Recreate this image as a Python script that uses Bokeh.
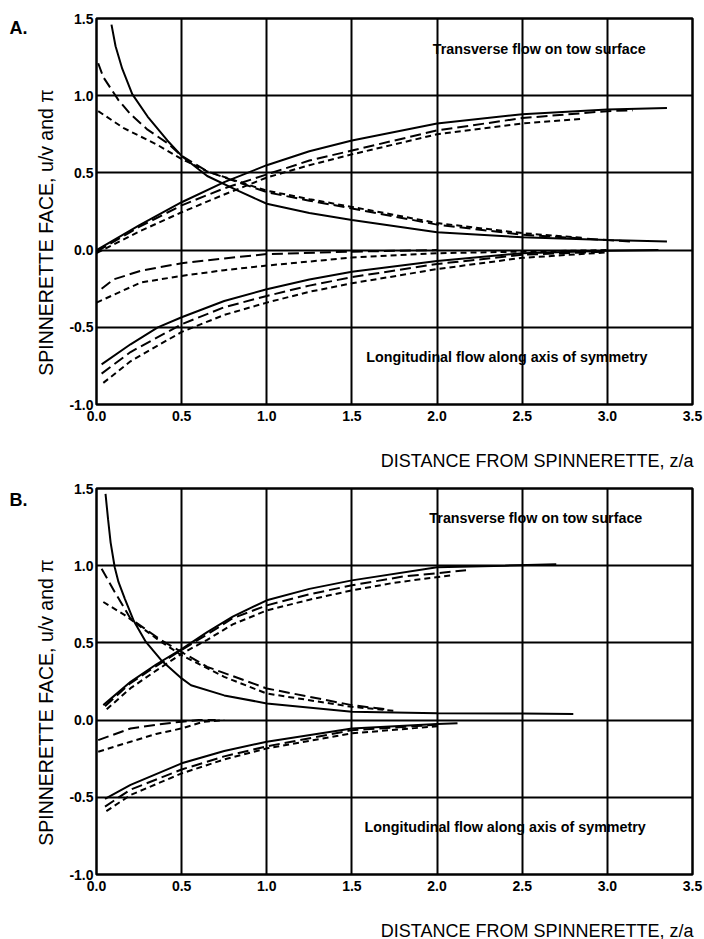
import math
from bokeh.plotting import figure
from bokeh.models import Range1d, FixedTicker, PrintfTickFormatter, Label
from bokeh.layouts import column, row
from bokeh.embed import file_html
from bokeh.resources import INLINE

# ---------------- data ----------------
x_ticks = [0.0, 0.5, 1.0, 1.5, 2.0, 2.5, 3.0, 3.5]
y_ticks = [-1.0, -0.5, 0.0, 0.5, 1.0, 1.5]

x_title = "DISTANCE FROM SPINNERETTE, z/a"
y_title = "SPINNERETTE FACE, u/v and π"
note_top = "Transverse flow on tow surface"
note_bottom = "Longitudinal flow along axis of symmetry"

# Panel A
a_dec_solid_x = [0.088, 0.112, 0.151, 0.21, 0.3, 0.416, 0.5, 0.65, 0.83, 1.0, 1.25, 1.5, 2.0, 2.5, 3.0, 3.35]
a_dec_solid_y = [1.46, 1.32, 1.175, 1.01, 0.865, 0.71, 0.61, 0.48, 0.385, 0.30, 0.24, 0.195, 0.115, 0.083, 0.065, 0.055]
a_dec_long_x = [0.01, 0.04, 0.07, 0.13, 0.2, 0.3, 0.42, 0.5, 0.65, 0.83, 1.0, 1.25, 1.5, 2.0, 2.5, 3.0, 3.15]
a_dec_long_y = [1.21, 1.12, 1.07, 0.97, 0.88, 0.78, 0.69, 0.61, 0.51, 0.44, 0.375, 0.32, 0.27, 0.165, 0.10, 0.065, 0.055]
a_dec_short_x = [0.01, 0.16, 0.36, 0.5, 0.65, 0.83, 1.0, 1.25, 1.5, 2.0, 2.5, 2.85]
a_dec_short_y = [0.90, 0.79, 0.68, 0.59, 0.51, 0.445, 0.385, 0.33, 0.28, 0.175, 0.11, 0.08]

a_inc_solid_x = [0.0, 0.25, 0.5, 0.75, 1.0, 1.25, 1.5, 2.0, 2.5, 3.0, 3.35]
a_inc_solid_y = [0.0, 0.16, 0.31, 0.44, 0.55, 0.64, 0.71, 0.82, 0.88, 0.91, 0.92]
a_inc_long_x = [0.0, 0.25, 0.5, 0.75, 1.0, 1.25, 1.5, 2.0, 2.5, 3.0, 3.15]
a_inc_long_y = [-0.01, 0.15, 0.29, 0.40, 0.49, 0.58, 0.645, 0.775, 0.855, 0.90, 0.905]
a_inc_short_x = [0.0, 0.25, 0.5, 0.75, 1.0, 1.25, 1.5, 2.0, 2.5, 2.85]
a_inc_short_y = [-0.02, 0.12, 0.245, 0.36, 0.47, 0.55, 0.62, 0.75, 0.82, 0.85]

a_zero_long_x = [0.03, 0.1, 0.26, 0.5, 0.75, 1.0, 1.5, 2.0]
a_zero_long_y = [-0.25, -0.19, -0.134, -0.085, -0.054, -0.026, -0.01, 0.0]
a_zero_short_x = [0.0, 0.26, 0.5, 0.75, 1.0, 1.5, 2.0, 2.5, 3.0]
a_zero_short_y = [-0.34, -0.21, -0.167, -0.13, -0.10, -0.048, -0.02, -0.01, 0.0]

a_low_solid_x = [0.03, 0.2, 0.36, 0.5, 0.75, 1.0, 1.25, 1.5, 2.0, 2.5, 3.0, 3.3]
a_low_solid_y = [-0.74, -0.61, -0.5, -0.435, -0.33, -0.253, -0.19, -0.14, -0.07, -0.02, -0.005, 0.0]
a_low_long_x = [0.03, 0.2, 0.5, 0.75, 1.0, 1.25, 1.5, 2.0, 2.5, 3.0]
a_low_long_y = [-0.80, -0.66, -0.48, -0.37, -0.297, -0.23, -0.175, -0.09, -0.03, -0.01]
a_low_short_x = [0.04, 0.2, 0.5, 0.75, 1.0, 1.25, 1.5, 2.0, 2.5, 3.0]
a_low_short_y = [-0.86, -0.72, -0.53, -0.42, -0.34, -0.27, -0.215, -0.123, -0.05, -0.015]

# Panel B
b_dec_solid_x = [0.053, 0.068, 0.083, 0.107, 0.129, 0.166, 0.22, 0.29, 0.38, 0.5, 0.555, 0.75, 1.0, 1.5, 2.0, 2.5, 2.8]
b_dec_solid_y = [1.465, 1.30, 1.15, 0.99, 0.895, 0.787, 0.64, 0.506, 0.388, 0.27, 0.226, 0.16, 0.108, 0.054, 0.045, 0.042, 0.04]
b_dec_long_x = [0.03, 0.107, 0.2, 0.38, 0.5, 0.65, 1.0, 1.5, 1.7]
b_dec_long_y = [0.98, 0.83, 0.657, 0.517, 0.44, 0.345, 0.205, 0.097, 0.07]
b_dec_short_x = [0.04, 0.166, 0.38, 0.5, 0.75, 1.0, 1.5, 1.75]
b_dec_short_y = [0.765, 0.68, 0.506, 0.42, 0.28, 0.172, 0.086, 0.06]

b_inc_solid_x = [0.04, 0.2, 0.35, 0.5, 0.65, 0.8, 1.0, 1.25, 1.5, 2.0, 2.4, 2.7]
b_inc_solid_y = [0.097, 0.248, 0.36, 0.46, 0.57, 0.67, 0.776, 0.85, 0.905, 0.99, 1.0, 1.01]
b_inc_long_x = [0.05, 0.2, 0.35, 0.5, 0.65, 0.8, 1.0, 1.25, 1.5, 1.8, 2.17]
b_inc_long_y = [0.09, 0.24, 0.35, 0.455, 0.555, 0.66, 0.743, 0.815, 0.873, 0.93, 0.97]
b_inc_short_x = [0.06, 0.2, 0.35, 0.5, 0.65, 0.8, 1.0, 1.25, 1.5, 1.75, 2.1]
b_inc_short_y = [0.07, 0.207, 0.32, 0.43, 0.52, 0.62, 0.71, 0.78, 0.84, 0.89, 0.94]

b_zero_long_x = [0.01, 0.2, 0.35, 0.5, 0.6, 0.7]
b_zero_long_y = [-0.13, -0.054, -0.03, -0.01, 0.0, 0.0]
b_zero_short_x = [0.01, 0.2, 0.35, 0.5, 0.63, 0.75]
b_zero_short_y = [-0.205, -0.14, -0.09, -0.054, -0.01, 0.0]

b_low_solid_x = [0.05, 0.2, 0.5, 0.75, 1.0, 1.5, 2.0, 2.12]
b_low_solid_y = [-0.51, -0.42, -0.28, -0.2, -0.14, -0.054, -0.026, -0.02]
b_low_long_x = [0.05, 0.2, 0.5, 0.75, 1.0, 1.5, 2.0]
b_low_long_y = [-0.56, -0.45, -0.32, -0.235, -0.17, -0.065, -0.03]
b_low_short_x = [0.058, 0.2, 0.5, 0.75, 1.0, 1.5, 2.0]
b_low_short_y = [-0.59, -0.485, -0.345, -0.255, -0.183, -0.086, -0.04]

FONT = "Liberation Sans"
STYLES = {"solid": "solid", "long": "11 5", "short": "6 4"}

panel_a_curves = [
    (a_dec_solid_x, a_dec_solid_y, "solid"), (a_dec_long_x, a_dec_long_y, "long"), (a_dec_short_x, a_dec_short_y, "short"),
    (a_inc_solid_x, a_inc_solid_y, "solid"), (a_inc_long_x, a_inc_long_y, "long"), (a_inc_short_x, a_inc_short_y, "short"),
    (a_zero_long_x, a_zero_long_y, "long"), (a_zero_short_x, a_zero_short_y, "short"),
    (a_low_solid_x, a_low_solid_y, "solid"), (a_low_long_x, a_low_long_y, "long"), (a_low_short_x, a_low_short_y, "short"),
]
panel_b_curves = [
    (b_dec_solid_x, b_dec_solid_y, "solid"), (b_dec_long_x, b_dec_long_y, "long"), (b_dec_short_x, b_dec_short_y, "short"),
    (b_inc_solid_x, b_inc_solid_y, "solid"), (b_inc_long_x, b_inc_long_y, "long"), (b_inc_short_x, b_inc_short_y, "short"),
    (b_zero_long_x, b_zero_long_y, "long"), (b_zero_short_x, b_zero_short_y, "short"),
    (b_low_solid_x, b_low_solid_y, "solid"), (b_low_long_x, b_low_long_y, "long"), (b_low_short_x, b_low_short_y, "short"),
]

SIDE_W = 60
MAIN_H = 440
TOP_B = 18
BOT_B = 36


def blank(fig):
    fig.axis.visible = False
    fig.grid.visible = False
    fig.outline_line_color = None
    fig.background_fill_color = "white"
    fig.border_fill_color = "white"


def side_strip(letter, letter_y, ytitle_y):
    # frame matches the main plot's frame; data y = pixels measured up from the figure bottom
    s = figure(width=SIDE_W, height=MAIN_H, x_range=Range1d(0, SIDE_W),
               y_range=Range1d(BOT_B, MAIN_H - TOP_B),
               output_backend="svg", toolbar_location=None,
               min_border_left=0, min_border_right=0, min_border_top=TOP_B, min_border_bottom=BOT_B)
    blank(s)
    s.add_layout(Label(x=18, y=MAIN_H - letter_y, text=letter, text_font=FONT, text_font_size="18px",
                       text_font_style="bold", text_align="center", text_baseline="middle", text_color="black"))
    s.add_layout(Label(x=45, y=MAIN_H - ytitle_y, text=y_title, text_font=FONT, text_font_size="19.5px",
                       text_align="center", text_baseline="middle", text_color="black", angle=math.pi / 2))
    return s


def bottom_strip(height, title_y):
    b = figure(width=704, height=height, x_range=Range1d(0, 704), y_range=Range1d(0, height),
               output_backend="svg", toolbar_location=None,
               min_border_left=0, min_border_right=0, min_border_top=0, min_border_bottom=0)
    blank(b)
    b.add_layout(Label(x=693, y=height - title_y, text=x_title, text_font=FONT, text_font_size="18px",
                       text_align="right", text_baseline="middle", text_color="black"))
    return b


def make_panel(curves, top_pos, low_pos):
    p = figure(width=704 - SIDE_W, height=MAIN_H, x_range=Range1d(0, 3.5), y_range=Range1d(-1, 1.5),
               output_backend="svg", toolbar_location=None,
               min_border_left=96 - SIDE_W, min_border_right=12, min_border_top=TOP_B, min_border_bottom=BOT_B)
    p.background_fill_color = "white"
    p.border_fill_color = "white"
    p.outline_line_color = "black"
    p.outline_line_width = 2.5
    p.outline_line_alpha = 1.0

    for g in (p.xgrid, p.ygrid):
        g.grid_line_color = "black"
        g.grid_line_width = 2
        g.grid_line_alpha = 1.0
    p.xaxis.ticker = FixedTicker(ticks=x_ticks)
    p.yaxis.ticker = FixedTicker(ticks=y_ticks)
    p.xgrid.ticker = FixedTicker(ticks=x_ticks)
    p.ygrid.ticker = FixedTicker(ticks=y_ticks)
    for ax in (p.xaxis, p.yaxis):
        ax.formatter = PrintfTickFormatter(format="%.1f")
        ax.major_tick_in = 0
        ax.major_tick_out = 0
        ax.minor_tick_in = 0
        ax.minor_tick_out = 0
        ax.axis_line_color = None
        ax.major_label_text_font = FONT
        ax.major_label_text_font_style = "bold"
        ax.major_label_text_font_size = "14px"
        ax.major_label_text_color = "black"
    p.xaxis.major_label_standoff = 6
    p.yaxis.major_label_standoff = 3

    for xs, ys, st in curves:
        p.line(xs, ys, line_color="black", line_width=2, line_dash=STYLES[st])

    for text, pos in ((note_top, top_pos), (note_bottom, low_pos)):
        p.add_layout(Label(x=pos[0], y=pos[1], text=text, text_font=FONT, text_font_size="14.3px",
                           text_font_style="bold", text_align="center", text_baseline="middle",
                           text_color="black"))
    return p


pa = make_panel(panel_a_curves, (2.6, 1.305), (2.41, -0.69))
pb = make_panel(panel_b_curves, (2.58, 1.31), (2.40, -0.69))
sa = side_strip("A.", 27, 232)
sb = side_strip("B.", 29, 232)
ta = bottom_strip(30, 20)
tb = bottom_strip(29, 20)

layout = column(row(sa, pa), ta, row(sb, pb), tb)
open("out.html", "w").write(file_html(layout, INLINE))
